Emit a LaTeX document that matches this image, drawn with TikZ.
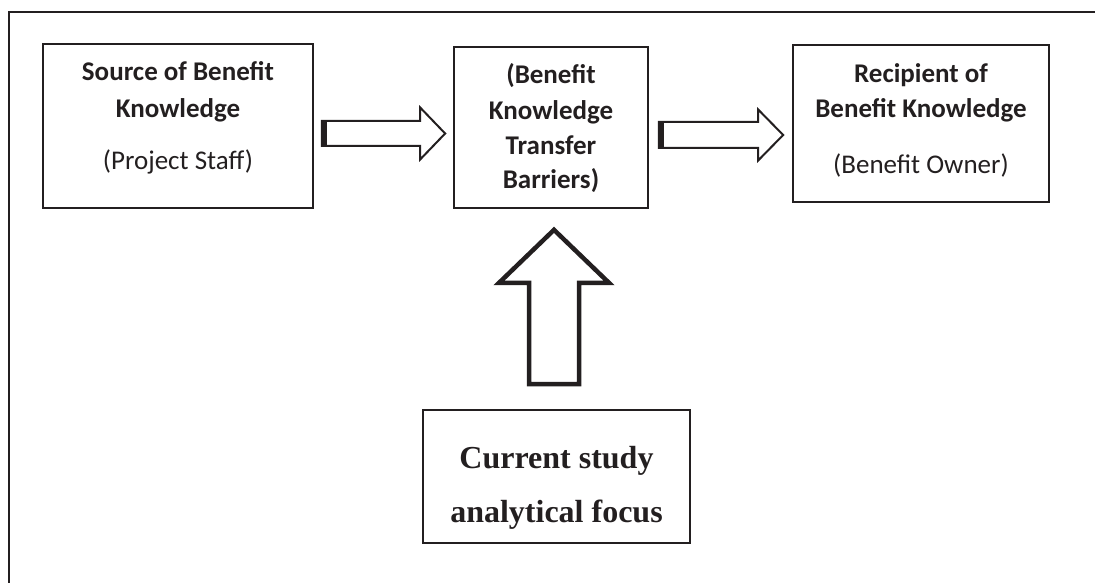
\documentclass[tikz,border=0pt]{standalone}
\usepackage{fontspec}
\setmainfont{Carlito}
\newfontfamily\timesfont{Liberation Serif}
\usetikzlibrary{calc}
\definecolor{ink}{RGB}{35,31,32}
\begin{document}
\begin{tikzpicture}[x=1pt,y=-1pt,
  box/.style={draw=ink, line width=1.7pt, rectangle, inner sep=0pt},
  lbl/.style={text=ink, align=center, inner sep=0pt, anchor=base},
  hollow/.style={draw=ink, line width=2pt, fill=white, line join=miter},
  upstyle/.style={draw=ink, line width=4.5pt, fill=white, line join=miter},
  frame/.style={draw=ink, line width=2.6pt}]
\useasboundingbox (0,0) rectangle (1095,583);

% outer frame (top and left edges)
\draw[frame] (1095,12) -- (9,12) -- (9,583);

% boxes
\node[box, minimum width=270pt, minimum height=164pt] (src) at (178,126) {};
\node[box, minimum width=194pt, minimum height=161pt] (bar) at (551,127.5) {};
\node[box, minimum width=256pt, minimum height=157pt] (rec) at (921,123.5) {};
\node[box, line width=2pt, minimum width=267pt, minimum height=133pt] (focus) at (556.5,476.5) {};

% box texts (anchored at the baseline of their last line)
\node[lbl, font=\fontsize{27}{36}\selectfont] (srct) at (178,170)
  {\textbf{Source of Benefit}\\\textbf{Knowledge}\\[17pt](Project Staff)};
\node[lbl, font=\fontsize{27}{35}\selectfont] (bart) at (551,189)
  {\textbf{(Benefit}\\\textbf{Knowledge}\\\textbf{Transfer}\\\textbf{Barriers)}};
\node[lbl, font=\fontsize{27}{35}\selectfont] (rect) at (921,173)
  {\textbf{Recipient of}\\\textbf{Benefit Knowledge}\\[21pt](Benefit Owner)};
\node[lbl, font=\timesfont\bfseries\fontsize{32}{54}\selectfont] (focust) at (556.5,522)
  {Current study\\analytical focus};

% block arrow: source -> barriers
\coordinate (a1s) at ($(src.east)+(8,7.5)$);
\coordinate (a1e) at ($(bar.west)+(-8,6)$);
\draw[hollow] ($(a1s)+(0,-12.5)$) -- ($(a1e)+(-25,-12.5)$) -- ($(a1e)+(-25,-26)$)
  -- (a1e) -- ($(a1e)+(-25,26)$) -- ($(a1e)+(-25,12.5)$) -- ($(a1s)+(0,12.5)$) -- cycle;
\fill[ink] ($(a1s)+(0,-12.5)$) rectangle ($(a1s)+(5,12.5)$);

% block arrow: barriers -> recipient
\coordinate (a2s) at ($(bar.east)+(10,7.5)$);
\coordinate (a2e) at ($(rec.west)+(-9,11.5)$);
\draw[hollow] ($(a2s)+(0,-13)$) -- ($(a2e)+(-25,-13)$) -- ($(a2e)+(-25,-25.5)$)
  -- (a2e) -- ($(a2e)+(-25,25.5)$) -- ($(a2e)+(-25,13)$) -- ($(a2s)+(0,13)$) -- cycle;
\fill[ink] ($(a2s)+(0,-13)$) rectangle ($(a2s)+(5,13)$);

% block arrow: analytical focus -> barriers
\coordinate (a3s) at ($(focus.north)+(-2.5,-25)$);
\coordinate (a3e) at ($(bar.south)+(3,21)$);
\draw[upstyle] ($(a3s)+(-25,0)$) -- ($(a3e)+(-25,53)$) -- ($(a3e)+(-55,53)$)
  -- (a3e) -- ($(a3e)+(55,53)$) -- ($(a3e)+(25,53)$) -- ($(a3s)+(25,0)$) -- cycle;
\end{tikzpicture}
\end{document}
